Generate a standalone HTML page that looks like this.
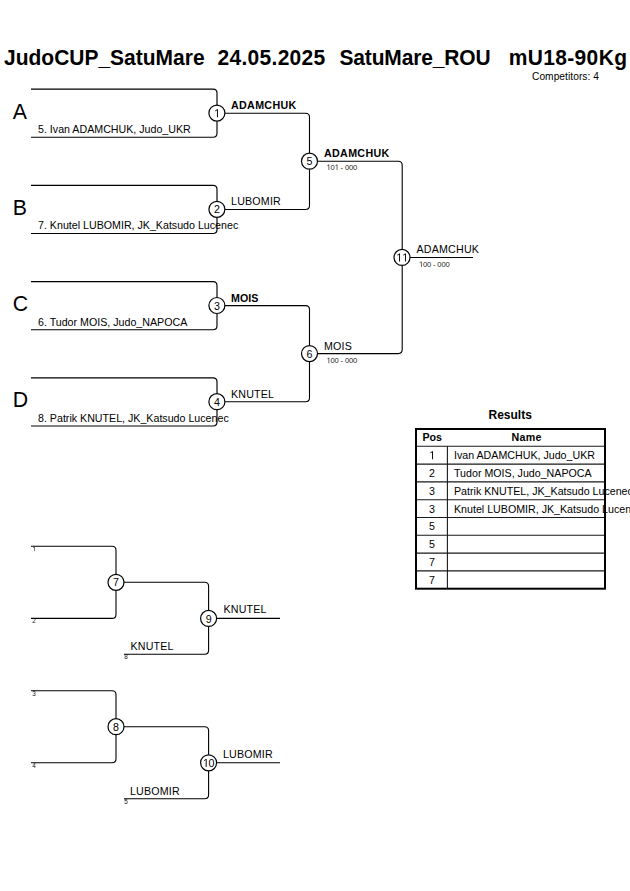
<!DOCTYPE html>
<html><head><meta charset="utf-8">
<style>
html,body{margin:0;padding:0;background:#fff;width:630px;height:891px;overflow:hidden}
svg{display:block;font-family:"Liberation Sans",sans-serif}
.ln{fill:none;stroke:#000;stroke-width:1.1}
.pool{stroke:#000;stroke-width:1.15}
.c{fill:#fff;stroke:#000;stroke-width:1.2}
.n{font-size:10.67px;text-anchor:middle;fill:#000}
.nm{font-size:10.67px;fill:#000;letter-spacing:0.2px}
.nm.b{font-weight:bold;letter-spacing:0.35px}
.sc{font-size:7.6px;fill:#222;letter-spacing:-0.15px}
.pl{font-size:21.3px;fill:#000}
.ti{font-size:21px;font-weight:bold;fill:#000}
.cmp{font-size:10.2px;fill:#000}
.tiny{font-size:6.3px;fill:#111}
.tt{font-size:10.67px;fill:#000}
.rt{font-size:12px;font-weight:bold}
.th{font-size:10.67px;font-weight:bold}
.tdc{font-size:10.67px;text-anchor:middle}
.td{font-size:10.67px}
</style></head>
<body>
<svg width="630" height="891" viewBox="0 0 630 891">
<g transform="translate(0 65.3) scale(1 1.07) translate(0 -65.3)">
<text x="4" y="65.3" class="ti" >JudoCUP_SatuMare</text>
<text x="217.5" y="65.3" class="ti" letter-spacing="0.3">24.05.2025</text>
<text x="339.5" y="65.3" class="ti" letter-spacing="-0.15">SatuMare_ROU</text>
<text x="508.7" y="65.3" class="ti" letter-spacing="0.35">mU18-90Kg</text>
</g>
<text x="532" y="80.2" class="cmp" letter-spacing="0.05">Competitors: 4</text>
<path class="ln pool" d="M31 89.10 H213 Q217 89.10 217 93.10 V105.17"/>
<path class="ln pool" d="M217 121.17 V133.23 Q217 137.23 213 137.23 H31"/>
<text x="12.8" y="119.1" class="pl" >A</text>
<text x="38" y="133.0" class="tt" >5. Ivan ADAMCHUK, Judo_UKR</text>
<path class="ln pool" d="M31 185.37 H213 Q217 185.37 217 189.37 V201.44"/>
<path class="ln pool" d="M217 217.44 V229.50 Q217 233.50 213 233.50 H31"/>
<text x="12.8" y="215.1" class="pl" >B</text>
<text x="38" y="229.27" class="tt" >7. Knutel LUBOMIR, JK_Katsudo Lucenec</text>
<path class="ln pool" d="M31 281.64 H213 Q217 281.64 217 285.64 V297.71"/>
<path class="ln pool" d="M217 313.71 V325.77 Q217 329.77 213 329.77 H31"/>
<text x="12.8" y="311.1" class="pl" >C</text>
<text x="38" y="325.54" class="tt" >6. Tudor MOIS, Judo_NAPOCA</text>
<path class="ln pool" d="M31 377.91 H213 Q217 377.91 217 381.91 V393.98"/>
<path class="ln pool" d="M217 409.98 V422.04 Q217 426.04 213 426.04 H31"/>
<text x="12.8" y="407.1" class="pl" >D</text>
<text x="38" y="421.81" class="tt" >8. Patrik KNUTEL, JK_Katsudo Lucenec</text>
<path class="ln br" d="M225 113.20 H305.5 Q309.5 113.20 309.5 117.20 V153.20"/>
<path class="ln br" d="M309.5 169.20 V205.50 Q309.5 209.50 305.5 209.50 H225"/>
<text x="231" y="108.8" class="nm b" >ADAMCHUK</text>
<text x="231" y="205.1" class="nm" >LUBOMIR</text>
<path class="ln br" d="M225 305.60 H305.5 Q309.5 305.60 309.5 309.60 V345.60"/>
<path class="ln br" d="M309.5 361.60 V397.80 Q309.5 401.80 305.5 401.80 H225"/>
<text x="231" y="302.2" class="nm b" style="letter-spacing:0">MOIS</text>
<text x="231" y="397.9" class="nm" >KNUTEL</text>
<path class="ln br" d="M317.5 161.2 H398.2 Q402.2 161.2 402.2 165.2 V249.39999999999998"/>
<path class="ln br" d="M402.2 265.4 V349.6 Q402.2 353.6 398.2 353.6 H317.5"/>
<text x="324" y="156.8" class="nm b" >ADAMCHUK</text>
<path fill="#222" transform="translate(326.40 170.00) scale(0.003711 -0.003822)" d="M582 0V1237L264 1010V1180L597 1409H763V0Z"/>
<text class="sc" x="330.48" y="170.00" style="text-anchor:start;letter-spacing:0">0</text>
<path fill="#222" transform="translate(334.55 170.00) scale(0.003711 -0.003822)" d="M582 0V1237L264 1010V1180L597 1409H763V0Z"/>
<text class="sc" x="340.59" y="170.00" style="text-anchor:start;letter-spacing:0">-</text>
<text class="sc" x="344.93" y="170.00" style="text-anchor:start;letter-spacing:0">0</text>
<text class="sc" x="349.01" y="170.00" style="text-anchor:start;letter-spacing:0">0</text>
<text class="sc" x="353.09" y="170.00" style="text-anchor:start;letter-spacing:0">0</text>
<text x="324" y="350.2" class="nm" >MOIS</text>
<path fill="#222" transform="translate(326.40 363.20) scale(0.003711 -0.003822)" d="M582 0V1237L264 1010V1180L597 1409H763V0Z"/>
<text class="sc" x="330.48" y="363.20" style="text-anchor:start;letter-spacing:0">0</text>
<text class="sc" x="334.55" y="363.20" style="text-anchor:start;letter-spacing:0">0</text>
<text class="sc" x="340.59" y="363.20" style="text-anchor:start;letter-spacing:0">-</text>
<text class="sc" x="344.93" y="363.20" style="text-anchor:start;letter-spacing:0">0</text>
<text class="sc" x="349.01" y="363.20" style="text-anchor:start;letter-spacing:0">0</text>
<text class="sc" x="353.09" y="363.20" style="text-anchor:start;letter-spacing:0">0</text>
<path class="ln br" d="M410.2 257.5 H473"/>
<text x="416.5" y="253" class="nm" >ADAMCHUK</text>
<path fill="#222" transform="translate(418.80 267.00) scale(0.003711 -0.003822)" d="M582 0V1237L264 1010V1180L597 1409H763V0Z"/>
<text class="sc" x="422.88" y="267.00" style="text-anchor:start;letter-spacing:0">0</text>
<text class="sc" x="426.95" y="267.00" style="text-anchor:start;letter-spacing:0">0</text>
<text class="sc" x="432.99" y="267.00" style="text-anchor:start;letter-spacing:0">-</text>
<text class="sc" x="437.33" y="267.00" style="text-anchor:start;letter-spacing:0">0</text>
<text class="sc" x="441.41" y="267.00" style="text-anchor:start;letter-spacing:0">0</text>
<text class="sc" x="445.49" y="267.00" style="text-anchor:start;letter-spacing:0">0</text>
<circle class="c" cx="216.9" cy="113.1" r="8"/>
<path fill="#000" transform="translate(213.93 117.20) scale(0.005210 -0.005688)" d="M582 0V1237L264 1010V1180L597 1409H763V0Z"/>
<circle class="c" cx="216.9" cy="209.3" r="8"/>
<text class="n" transform="translate(213.93 213.40) scale(1 1.06)" style="text-anchor:start;letter-spacing:0">2</text>
<circle class="c" cx="216.9" cy="305.5" r="8"/>
<text class="n" transform="translate(213.93 309.60) scale(1 1.06)" style="text-anchor:start;letter-spacing:0">3</text>
<circle class="c" cx="216.9" cy="401.7" r="8"/>
<text class="n" transform="translate(213.93 405.80) scale(1 1.06)" style="text-anchor:start;letter-spacing:0">4</text>
<circle class="c" cx="309.5" cy="161.2" r="8"/>
<text class="n" transform="translate(306.53 165.30) scale(1 1.06)" style="text-anchor:start;letter-spacing:0">5</text>
<circle class="c" cx="309.5" cy="353.6" r="8"/>
<text class="n" transform="translate(306.53 357.70) scale(1 1.06)" style="text-anchor:start;letter-spacing:0">6</text>
<circle class="c" cx="402" cy="257.4" r="8"/>
<path fill="#000" transform="translate(396.07 261.50) scale(0.005210 -0.005688)" d="M582 0V1237L264 1010V1180L597 1409H763V0Z"/>
<path fill="#000" transform="translate(402.00 261.50) scale(0.005210 -0.005688)" d="M582 0V1237L264 1010V1180L597 1409H763V0Z"/>
<text x="488.5" y="419.2" class="rt" >Results</text>
<rect x="416" y="429" width="189" height="159.7" fill="none" stroke="#000" stroke-width="2"/>
<path d="M417 446.30 H604 M417 464.10 H604 M417 481.90 H604 M417 499.70 H604 M417 517.50 H604 M417 535.30 H604 M417 553.10 H604 M417 570.90 H604 M447.4 446.3 V588" stroke="#1a1a1a" stroke-width="1.1" fill="none"/>
<text x="422.5" y="441" class="th" >Pos</text>
<text x="511.5" y="441" class="th" letter-spacing="0.3">Name</text>
<path fill="#000" transform="translate(429.03 459.20) scale(0.005210 -0.005688)" d="M582 0V1237L264 1010V1180L597 1409H763V0Z"/>
<text x="454" y="459.2" class="td" >Ivan ADAMCHUK, Judo_UKR</text>
<text class="tdc" transform="translate(429.03 477.00) scale(1 1.06)" style="text-anchor:start;letter-spacing:0">2</text>
<text x="454" y="477.0" class="td" >Tudor MOIS, Judo_NAPOCA</text>
<text class="tdc" transform="translate(429.03 494.80) scale(1 1.06)" style="text-anchor:start;letter-spacing:0">3</text>
<text x="454" y="494.8" class="td" >Patrik KNUTEL, JK_Katsudo Lucenec</text>
<text class="tdc" transform="translate(429.03 512.60) scale(1 1.06)" style="text-anchor:start;letter-spacing:0">3</text>
<text x="454" y="512.6" class="td" >Knutel LUBOMIR, JK_Katsudo Lucenec</text>
<text class="tdc" transform="translate(429.03 530.40) scale(1 1.06)" style="text-anchor:start;letter-spacing:0">5</text>
<text class="tdc" transform="translate(429.03 548.20) scale(1 1.06)" style="text-anchor:start;letter-spacing:0">5</text>
<text class="tdc" transform="translate(429.03 566.00) scale(1 1.06)" style="text-anchor:start;letter-spacing:0">7</text>
<text class="tdc" transform="translate(429.03 583.80) scale(1 1.06)" style="text-anchor:start;letter-spacing:0">7</text>
<path class="ln br" d="M31 546.30 H112.0 Q116.0 546.30 116.0 550.30 V574.30"/>
<path class="ln br" d="M116.0 590.30 V614.40 Q116.0 618.40 112.0 618.40 H31"/>
<path class="ln br" d="M124.0 582.30 H204.6 Q208.6 582.30 208.6 586.30 V610.40"/>
<path class="ln br" d="M208.6 626.40 V650.30 Q208.6 654.30 204.6 654.30 H124"/>
<path class="ln br" d="M216.6 618.40 H280"/>
<circle class="c" cx="116.0" cy="582.3" r="8"/>
<text class="n" transform="translate(113.03 586.40) scale(1 1.06)" style="text-anchor:start;letter-spacing:0">7</text>
<circle class="c" cx="208.6" cy="618.4" r="8"/>
<text class="n" transform="translate(205.63 622.50) scale(1 1.06)" style="text-anchor:start;letter-spacing:0">9</text>
<text x="223.5" y="613.1" class="nm" >KNUTEL</text>
<text x="130.5" y="650" class="nm" >KNUTEL</text>
<path fill="#111" transform="translate(32.30 551.10) scale(0.003076 -0.003168)" d="M582 0V1237L264 1010V1180L597 1409H763V0Z"/>
<text class="tiny" x="32.30" y="623.20" style="text-anchor:start;letter-spacing:0">2</text>
<text class="tiny" x="124.30" y="659.10" style="text-anchor:start;letter-spacing:0">8</text>
<path class="ln br" d="M31 690.70 H112.0 Q116.0 690.70 116.0 694.70 V718.70"/>
<path class="ln br" d="M116.0 734.70 V758.80 Q116.0 762.80 112.0 762.80 H31"/>
<path class="ln br" d="M124.0 726.70 H204.6 Q208.6 726.70 208.6 730.70 V754.80"/>
<path class="ln br" d="M208.6 770.80 V794.70 Q208.6 798.70 204.6 798.70 H124"/>
<path class="ln br" d="M216.6 762.80 H280"/>
<circle class="c" cx="116.0" cy="726.6999999999999" r="8"/>
<text class="n" transform="translate(113.03 730.80) scale(1 1.06)" style="text-anchor:start;letter-spacing:0">8</text>
<circle class="c" cx="208.6" cy="762.8" r="8"/>
<path fill="#000" transform="translate(202.67 766.90) scale(0.005210 -0.005688)" d="M582 0V1237L264 1010V1180L597 1409H763V0Z"/>
<text class="n" transform="translate(208.60 766.90) scale(1 1.06)" style="text-anchor:start;letter-spacing:0">0</text>
<text x="222.9" y="758.1" class="nm" >LUBOMIR</text>
<text x="129.9" y="795" class="nm" >LUBOMIR</text>
<text class="tiny" x="32.30" y="695.50" style="text-anchor:start;letter-spacing:0">3</text>
<text class="tiny" x="32.30" y="767.60" style="text-anchor:start;letter-spacing:0">4</text>
<text class="tiny" x="124.30" y="803.50" style="text-anchor:start;letter-spacing:0">5</text>
</svg>
</body></html>
